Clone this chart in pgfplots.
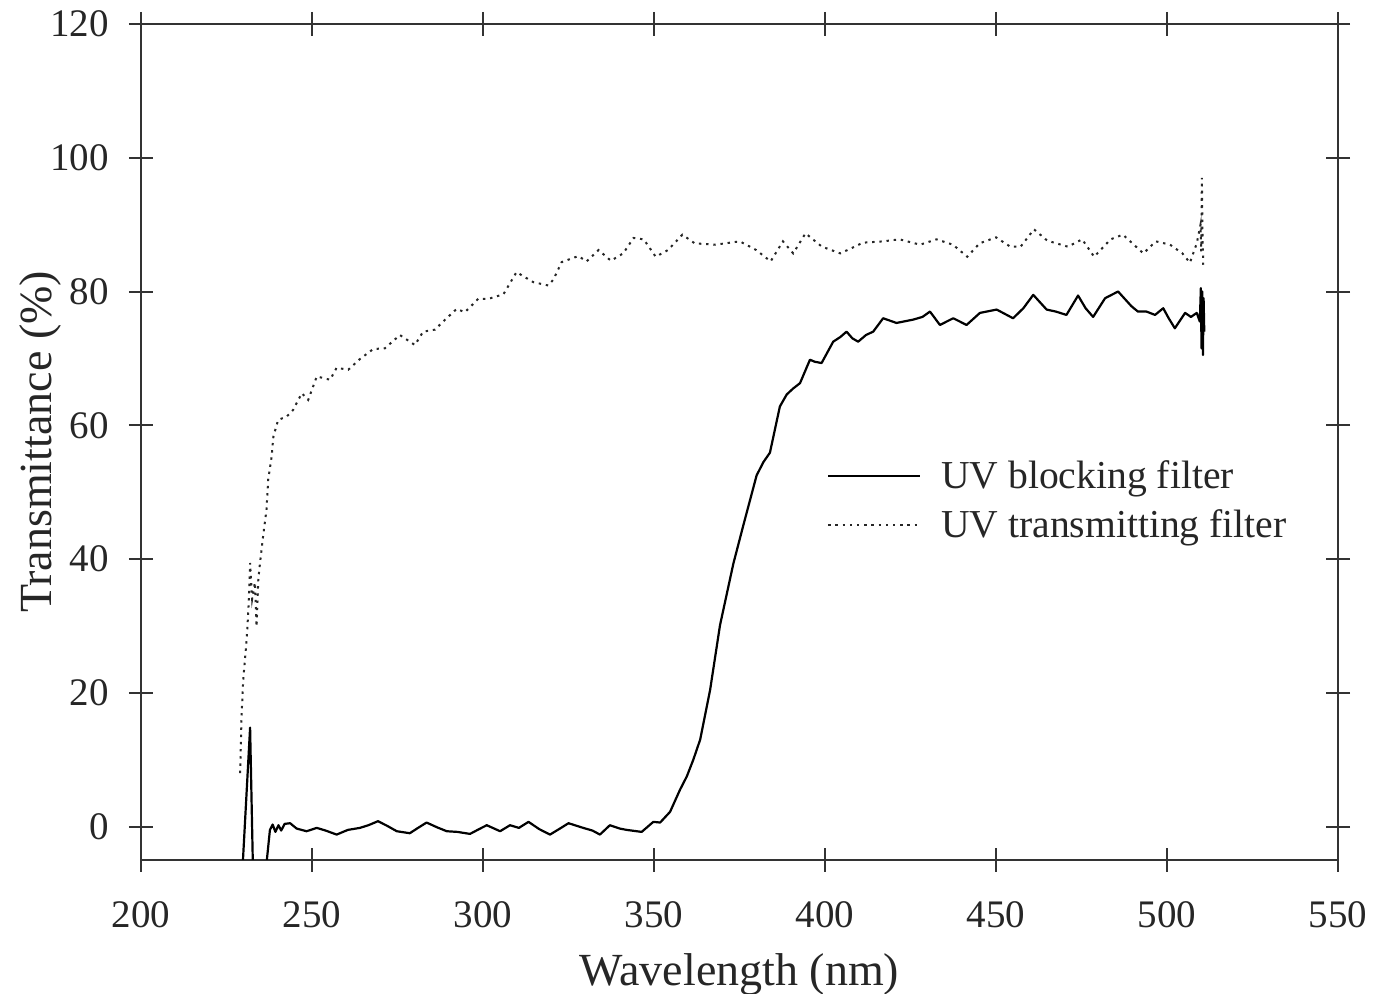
\documentclass[border=0pt]{standalone}
\usepackage{fontspec}
\setmainfont{Liberation Serif}
\usepackage{pgfplots}
\pgfplotsset{compat=1.18}
\usepackage{pgfplotstable}

\pgfplotstableread{
x y
229.5 -8
231.9 14.8
232.8 -8
236.2 -8
237.7 -0.5
238.5 0.3
239.3 -0.8
240.2 0.2
241.0 -0.6
242.0 0.4
243.6 0.5
245.5 -0.3
248.4 -0.7
251.4 -0.2
254.0 -0.6
257.2 -1.2
260.5 -0.5
264.0 -0.2
266.5 0.2
269.3 0.8
272.0 0.1
274.8 -0.7
278.6 -1.0
281.0 -0.2
283.5 0.6
286.5 -0.1
289.4 -0.7
292.5 -0.8
296.2 -1.1
298.8 -0.4
301.1 0.2
305.0 -0.7
307.9 0.2
310.5 -0.2
313.3 0.7
316.5 -0.4
319.6 -1.2
322.5 -0.3
325.0 0.5
329.3 -0.2
332.0 -0.6
334.2 -1.2
337.1 0.2
340.0 -0.3
342.0 -0.5
346.4 -0.8
349.8 0.7
351.8 0.6
354.7 2.2
357.6 5.5
359.6 7.5
361.5 10.0
363.5 13.0
366.4 20.4
369.3 30.1
373.2 39.3
376.1 45.0
380.0 52.5
382.0 54.5
383.9 55.9
386.8 62.8
388.8 64.6
390.7 65.5
392.7 66.3
395.6 69.8
397.0 69.5
399.0 69.3
402.4 72.5
404.5 73.2
406.3 74.0
408.0 73.0
409.7 72.5
412.0 73.5
414.1 74.0
417.0 76.0
420.9 75.3
425.8 75.8
428.5 76.2
430.7 77.0
433.6 75.0
437.5 76.0
441.4 75.0
445.3 76.8
450.2 77.3
455.0 76.0
458.0 77.5
460.9 79.5
464.8 77.3
467.5 77.0
470.6 76.5
474.0 79.4
476.2 77.5
478.4 76.2
481.9 79.0
485.7 80.0
489.6 77.8
491.5 77.0
494.0 77.0
496.5 76.5
498.9 77.5
500.5 76.0
502.3 74.5
505.3 76.8
507.0 76.2
508.7 76.8
509.6 75.5
509.9 80.5
510.1 71.5
510.3 80.0
510.5 70.5
510.7 79.0
510.9 74.0
}\blocking

\pgfplotstableread{
x y
229.0 8.0
229.4 16.5
229.9 22.0
230.9 28.0
231.4 32.4
231.9 39.4
232.5 34.0
233.3 36.5
233.8 29.9
234.3 37.0
234.8 39.4
235.7 43.4
236.7 47.4
237.2 51.9
238.2 55.3
238.7 58.3
240.1 60.8
242.6 61.3
244.5 62.3
247.0 64.8
248.9 63.8
251.4 67.3
255.3 66.8
257.2 68.6
260.6 68.3
264.0 69.9
267.9 71.4
271.3 71.5
275.7 73.5
280.1 72.0
282.5 74.0
286.0 74.3
287.9 75.3
292.3 77.4
294.7 76.9
298.6 78.9
301.6 78.9
306.0 79.6
309.8 82.9
314.7 81.4
319.1 80.9
320.6 81.8
323.0 84.4
327.9 85.3
330.3 84.5
333.8 86.2
337.4 84.6
341.0 85.7
344.0 88.0
347.0 87.8
350.5 85.2
354.1 86.2
358.3 88.5
361.9 87.2
367.9 87.0
375.1 87.5
379.9 86.2
384.1 84.5
387.7 87.5
390.7 85.7
394.3 88.7
399.1 86.7
404.5 85.7
411.1 87.3
417.0 87.5
421.8 87.8
427.8 87.0
432.6 87.8
437.4 87.0
441.6 85.2
445.2 87.2
450.0 88.1
454.2 86.7
457.2 86.7
461.1 89.3
465.0 87.6
471.0 86.7
475.2 87.8
478.7 85.2
483.5 87.8
487.1 88.5
493.1 85.7
496.7 87.5
500.9 87.0
504.5 85.7
506.7 84.3
508.7 87.2
509.8 90.0
510.0 86.0
510.2 97.0
510.4 88.0
510.6 84.0
}\transmitting

\begin{document}
\begin{tikzpicture}
\useasboundingbox (-70.5pt,-67pt) rectangle (624pt,430pt);
\begin{axis}[
  at={(0,0)}, anchor=south west,
  scale only axis, width=598.5pt, height=418pt,
  xmin=200, xmax=550, ymin=-5, ymax=120,
  xtick={200,250,...,550}, ytick={0,20,...,120},
  tick align=center, major tick length=12pt,
  axis line style={line width=1.3pt, black!80},
  every tick/.style={line width=1pt, black!80},
  /pgf/number format/assume math mode=true,
  /pgf/number format/1000 sep={},
  tick label style={font=\fontsize{19.5}{20}\selectfont, text=black!85},
  label style={font=\fontsize{23}{24}\selectfont, text=black!85},
  xlabel={Wavelength (nm)},
  ylabel={Transmittance (\%)},
  xticklabel style={yshift=-11.5pt},
  yticklabel style={xshift=-6.5pt},
  xlabel style={yshift=-5.5pt},
  ylabel style={yshift=-12.5pt},
  legend cell align=left,
  legend style={draw=none, fill=none, at={(axis cs:400.5,55.4)}, anchor=north west,
    font=\fontsize{19.8}{21}\selectfont, row sep=5pt, inner sep=0pt,
    nodes={inner sep=2pt, text=black!85},
    /tikz/every odd column/.append style={column sep=8pt}},
  legend image code/.code={\draw[#1] (0pt,0pt) -- (46pt,0pt);},
]
\addplot[black, line width=1.1pt, line join=round] table[x=x,y=y] {\blocking};
\addlegendentry{UV blocking filter}
\addplot[black!85, line width=1pt, dash pattern=on 1.2pt off 2.4pt] table[x=x,y=y] {\transmitting};
\addlegendentry{UV transmitting filter}
\end{axis}
\end{tikzpicture}
\end{document}
